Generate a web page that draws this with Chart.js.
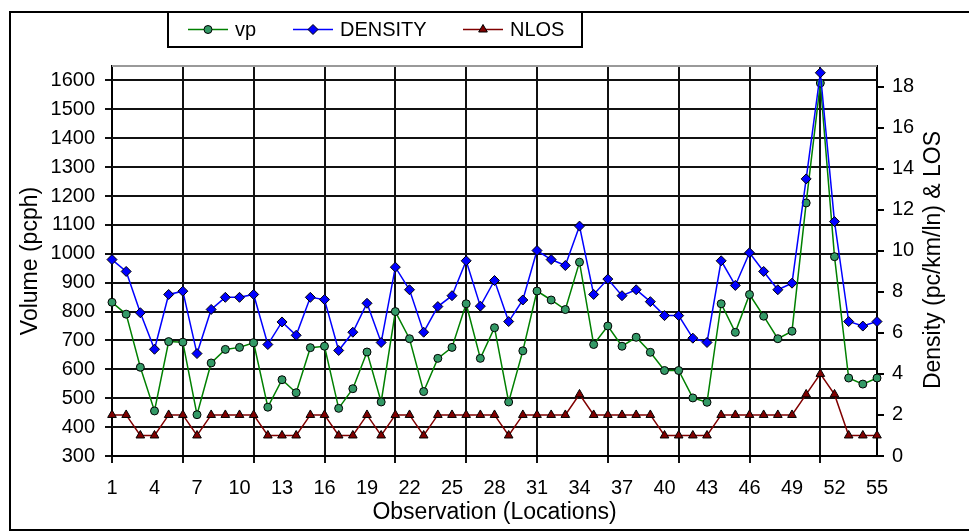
<!DOCTYPE html>
<html>
<head>
<meta charset="utf-8">
<title>Volume, density and LOS by observation</title>
<script src="https://cdn.jsdelivr.net/npm/chart.js@4.4.0/dist/chart.umd.min.js"></script>
<style>
  html, body { margin: 0; padding: 0; background: #fff; }
  #wrap { width: 969px; height: 532px; background: #fff; }
</style>
</head>
<body>
<div id="wrap"><canvas id="chart" width="969" height="532"></canvas></div>
<script>
const observations = [1,2,3,4,5,6,7,8,9,10,11,12,13,14,15,16,17,18,19,20,21,22,23,24,25,26,27,28,29,30,
  31,32,33,34,35,36,37,38,39,40,41,42,43,44,45,46,47,48,49,50,51,52,53,54,55];

// vp (pcph), left axis
const vp = [832, 791, 607, 456, 696, 694, 443, 622, 669, 676, 692, 469, 564, 519, 675, 680, 465, 533, 660, 487,
  800, 706, 523, 638, 676, 827, 638, 744, 487, 664, 871, 840, 807, 971, 686, 750, 680, 711, 659, 596,
  596, 501, 486, 827, 728, 859, 784, 706, 732, 1176, 1591, 990, 570, 549, 570];

// density (pc/km/ln), right axis
const density = [9.57, 8.99, 6.98, 5.2, 7.87, 8.03, 4.99, 7.14, 7.73, 7.73, 7.87, 5.43, 6.53, 5.88, 7.73, 7.62, 5.14, 6.03, 7.44, 5.53,
  9.2, 8.1, 6.03, 7.28, 7.81, 9.51, 7.3, 8.55, 6.55, 7.6, 10.01, 9.57, 9.28, 11.2, 7.87, 8.62, 7.81, 8.1, 7.52, 6.84,
  6.84, 5.74, 5.53, 9.51, 8.31, 9.9, 8.99, 8.1, 8.42, 13.5, 18.67, 11.42, 6.55, 6.33, 6.55];

// numeric LOS, right axis
const nlos = [2, 2, 1, 1, 2, 2, 1, 2, 2, 2, 2, 1, 1, 1, 2, 2, 1, 1, 2, 1,
  2, 2, 1, 2, 2, 2, 2, 2, 1, 2, 2, 2, 2, 3, 2, 2, 2, 2, 2, 1,
  1, 1, 1, 2, 2, 2, 2, 2, 2, 3, 4, 3, 1, 1, 1];

const labelledObs = [1,4,7,10,13,16,19,22,25,28,31,34,37,40,43,46,49,52,55];
const gridObs = [1,6,11,16,21,26,31,36,41,46,51];
const volumeTicks = [300,400,500,600,700,800,900,1000,1100,1200,1300,1400,1500,1600];
const densityTicks = [0,2,4,6,8,10,12,14,16,18];

const FONT = "'Liberation Sans', Arial, sans-serif";

function marker(c, style, x, y, r, fill) {
  c.save();
  c.fillStyle = fill;
  c.strokeStyle = '#000';
  c.lineWidth = 1;
  c.beginPath();
  if (style === 'circle') {
    c.arc(x, y, r, 0, Math.PI * 2);
  } else if (style === 'rectRot') {
    c.moveTo(x, y - r); c.lineTo(x + r, y); c.lineTo(x, y + r); c.lineTo(x - r, y);
    c.closePath();
  } else {
    const w = r * Math.sqrt(3) / 2;
    c.moveTo(x, y - r); c.lineTo(x + w, y + r / 2); c.lineTo(x - w, y + r / 2);
    c.closePath();
  }
  c.fill(); c.stroke();
  c.restore();
}

// horizontal grid rows from the left scale, as thin filled bars
function hGrid(chart) {
  const a = chart.chartArea, c = chart.ctx, ys = chart.scales.y;
  c.fillStyle = '#111';
  volumeTicks.slice(1).forEach(v => {
    const y = Math.round(ys.getPixelForValue(v));
    c.fillRect(a.left, y - 1, a.right - a.left, 2);
  });
}

const decor = {
  id: 'decor',
  beforeDraw(chart) {
    const c = chart.ctx;
    c.save();
    c.strokeStyle = '#000';
    c.lineWidth = 2;
    c.beginPath();
    c.moveTo(972, 12); c.lineTo(10, 12); c.lineTo(10, 530); c.lineTo(972, 530);
    c.stroke();
    c.restore();
  },
  beforeDatasetsDraw(chart) {
    const a = chart.chartArea, c = chart.ctx;
    c.save();
    hGrid(chart);
    c.fillStyle = '#999';
    c.fillRect(a.left, a.top - 1, a.right - a.left, 2);
    c.restore();
  },
  afterDraw(chart) {
    const c = chart.ctx;
    c.save();
    // legend
    c.fillStyle = '#fff';
    c.fillRect(168, 12, 414, 35);
    c.strokeStyle = '#000';
    c.lineWidth = 2;
    c.strokeRect(168, 12, 414, 35);
    const starts = [188, 293, 463];
    chart.data.datasets.forEach((ds, i) => {
      const x0 = starts[i], y = 29.5;
      c.strokeStyle = ds.borderColor;
      c.lineWidth = 1.5;
      c.beginPath(); c.moveTo(x0, y); c.lineTo(x0 + 40, y); c.stroke();
      marker(c, ds.pointStyle, x0 + 20, y, ds.pointRadius, ds.pointBackgroundColor);
      c.fillStyle = '#000';
      c.font = '20px ' + FONT;
      c.textBaseline = 'middle';
      c.textAlign = 'left';
      c.fillText(ds.label, x0 + 47, y + 1);
    });
    c.restore();

    // right axis title, reads bottom to top
    c.save();
    c.translate(934, 260);
    c.rotate(-Math.PI / 2);
    c.font = '23px ' + FONT;
    c.fillStyle = '#000';
    c.textAlign = 'center';
    c.textBaseline = 'middle';
    c.fillText('Density (pc/km/ln) & LOS', 0, 0);
    c.restore();

    // grid again, slipped underneath whatever is already painted
    c.save();
    c.globalCompositeOperation = 'destination-over';
    hGrid(chart);
    c.restore();
  }
};

new Chart(document.getElementById('chart'), {
  type: 'line',
  data: {
    labels: observations.map(String),
    datasets: [
      { label: 'vp', data: vp, yAxisID: 'y', order: 3,
        borderColor: '#008000', borderWidth: 1.5, pointStyle: 'circle', pointRadius: 4,
        pointBackgroundColor: '#339966', pointBorderColor: '#000', pointBorderWidth: 1 },
      { label: 'DENSITY', data: density, yAxisID: 'y2', order: 2,
        borderColor: '#0000ff', borderWidth: 1.5, pointStyle: 'rectRot', pointRadius: 5,
        pointBackgroundColor: '#0000ff', pointBorderColor: '#000', pointBorderWidth: 1 },
      { label: 'NLOS', data: nlos, yAxisID: 'y2', order: 1,
        borderColor: '#800000', borderWidth: 1.5, pointStyle: 'triangle', pointRadius: 5,
        pointBackgroundColor: '#800000', pointBorderColor: '#000', pointBorderWidth: 1 }
    ]
  },
  options: {
    responsive: false,
    animation: false,
    layout: { padding: { top: 66, left: 13, right: 0, bottom: 6 } },
    elements: { line: { tension: 0 } },
    datasets: { line: { clip: false } },
    plugins: { legend: { display: false }, tooltip: { enabled: false } },
    scales: {
      x: {
        type: 'category',
        offset: false,
        afterFit: s => { s.height = 70; },
        grid: {
          color: ctx => gridObs.includes(observations[ctx.index]) ? '#111' : 'rgba(0,0,0,0)',
          lineWidth: 2, tickLength: 7
        },
        border: { display: true, color: '#000', width: 2 },
        ticks: {
          autoSkip: false, maxRotation: 0, padding: 13, color: '#000',
          font: { family: FONT, size: 20 },
          callback(value, index) {
            return labelledObs.includes(observations[index]) ? String(observations[index]) : '';
          }
        },
        title: { display: true, text: 'Observation (Locations)', color: '#000',
          font: { family: FONT, size: 23 }, padding: { top: 0, bottom: 0 } }
      },
      y: {
        type: 'linear',
        position: 'left',
        min: 300, max: 1650,
        afterFit: s => { s.width = 99; },
        afterBuildTicks: s => { s.ticks = volumeTicks.map(v => ({ value: v })); },
        grid: { color: '#111', lineWidth: 2, tickLength: 7 },
        border: { display: true, color: '#000', width: 2 },
        ticks: { autoSkip: false, padding: 10, color: '#000', font: { family: FONT, size: 20 },
          callback: v => String(v) },
        title: { display: true, text: 'Volume (pcph)', color: '#000',
          font: { family: FONT, size: 23 } }
      },
      y2: {
        type: 'linear',
        position: 'right',
        min: 0, max: 19,
        afterFit: s => { s.width = 92; },
        afterBuildTicks: s => { s.ticks = densityTicks.map(v => ({ value: v })); },
        grid: { drawOnChartArea: false, color: '#000', lineWidth: 2, tickLength: 7 },
        border: { display: true, color: '#000', width: 2 },
        ticks: { autoSkip: false, padding: 8, color: '#000', font: { family: FONT, size: 20 } }
      }
    }
  },
  plugins: [decor]
});
</script>
</body>
</html>
